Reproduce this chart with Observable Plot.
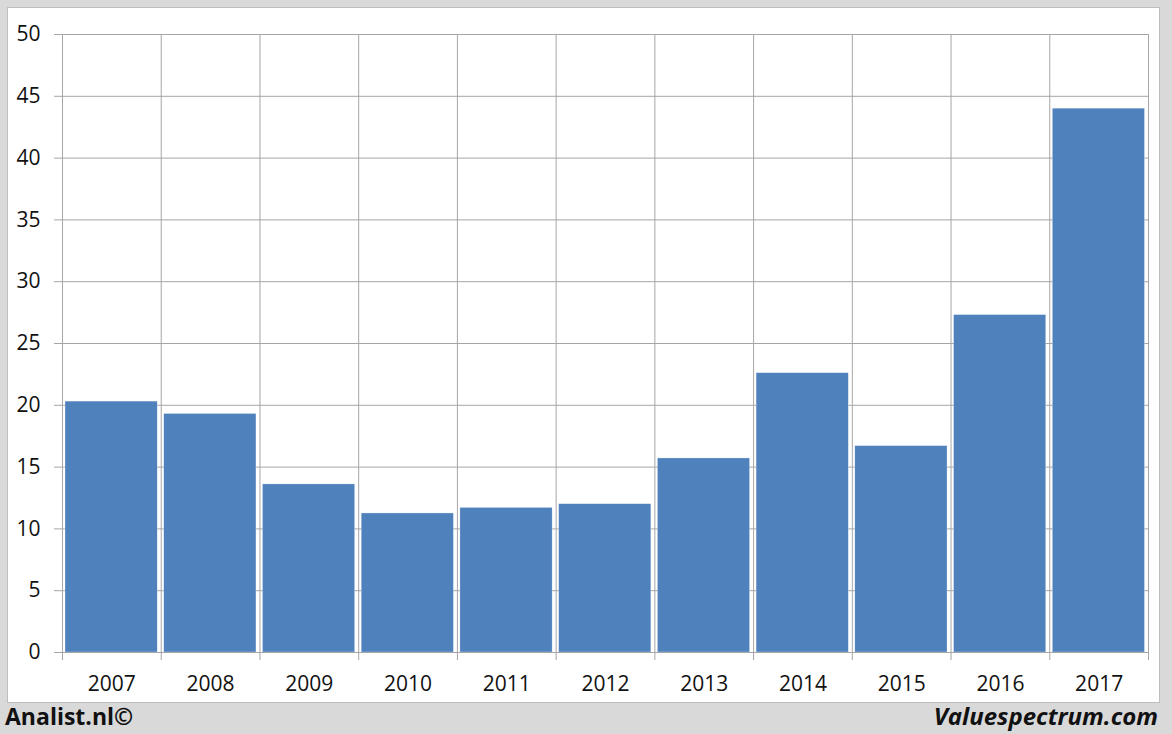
<!DOCTYPE html>
<html>
<head>
<meta charset="utf-8">
<script src="https://cdn.jsdelivr.net/npm/d3@7"></script>
<script src="https://cdn.jsdelivr.net/npm/@observablehq/plot@0.6"></script>
<style>
  html, body { margin: 0; padding: 0; }
  body { width: 1172px; height: 734px; background: #d9d9d9; position: relative; overflow: hidden; font-family: "Open Sans", sans-serif; }
  #panel { position: absolute; left: 7px; top: 7px; width: 1151px; height: 694px; background: #fff; border: 1px solid #bdbdbd; }
  #chart { position: absolute; left: 0; top: 0; }
  #chart svg { background: transparent; }
  .foot { position: absolute; top: 700px; font-size: 23px; font-weight: 700; color: #111; }
  #left { left: 5px; }
  #right { right: 14px; font-style: italic; font-size: 24px; top: 699px; }
</style>
</head>
<body>
<div id="panel"></div>
<div id="chart"></div>
<div class="foot" id="left">Analist.nl©</div>
<div class="foot" id="right">Valuespectrum.com</div>
<script>
const years = ["2007","2008","2009","2010","2011","2012","2013","2014","2015","2016","2017"];
const values = [20.3, 19.3, 13.6, 11.25, 11.7, 12.0, 15.7, 22.6, 16.7, 27.3, 44.0];
const yTicks = [0, 5, 10, 15, 20, 25, 30, 35, 40, 45, 50];

const data = years.map((year, i) => ({year, i, value: values[i]}));
const boundaries = d3.range(years.length + 1);
const centers = years.map((_, i) => i + 0.5);

const chart = Plot.plot({
  width: 1172,
  height: 734,
  marginLeft: 62,
  marginRight: 24,
  marginTop: 34,
  marginBottom: 82,
  style: {background: "transparent", fontFamily: "Open Sans, sans-serif", fontSize: "21px", color: "#111"},
  x: {type: "linear", domain: [0, years.length]},
  y: {domain: [0, 50]},
  marks: [
    Plot.gridY(yTicks, {stroke: "#a6a6a6", strokeOpacity: 1, strokeWidth: 1}),
    Plot.gridX(boundaries, {stroke: "#a6a6a6", strokeOpacity: 1, strokeWidth: 1}),
    Plot.axisY({ticks: yTicks, tickSize: 8, tickPadding: 14, stroke: "#a6a6a6", fill: "#111", label: null, fontSize: 21}),
    Plot.axisX({ticks: boundaries, tickSize: 8, tickFormat: () => "", stroke: "#a6a6a6", label: null}),
    Plot.axisX({ticks: centers, tickSize: 0, tickPadding: 24, tickFormat: (d) => years[Math.floor(d)], fill: "#111", label: null, fontSize: 21}),
    Plot.rectY(data, {x1: "i", x2: (d) => d.i + 1, y: "value", fill: "#4f81bd", insetLeft: 3, insetRight: 3.5, stroke: "#ffffff", strokeOpacity: 0.6, strokeWidth: 0.5}),
    Plot.ruleY([0], {stroke: "#a6a6a6"})
  ]
});
document.getElementById("chart").appendChild(chart);
</script>
</body>
</html>
